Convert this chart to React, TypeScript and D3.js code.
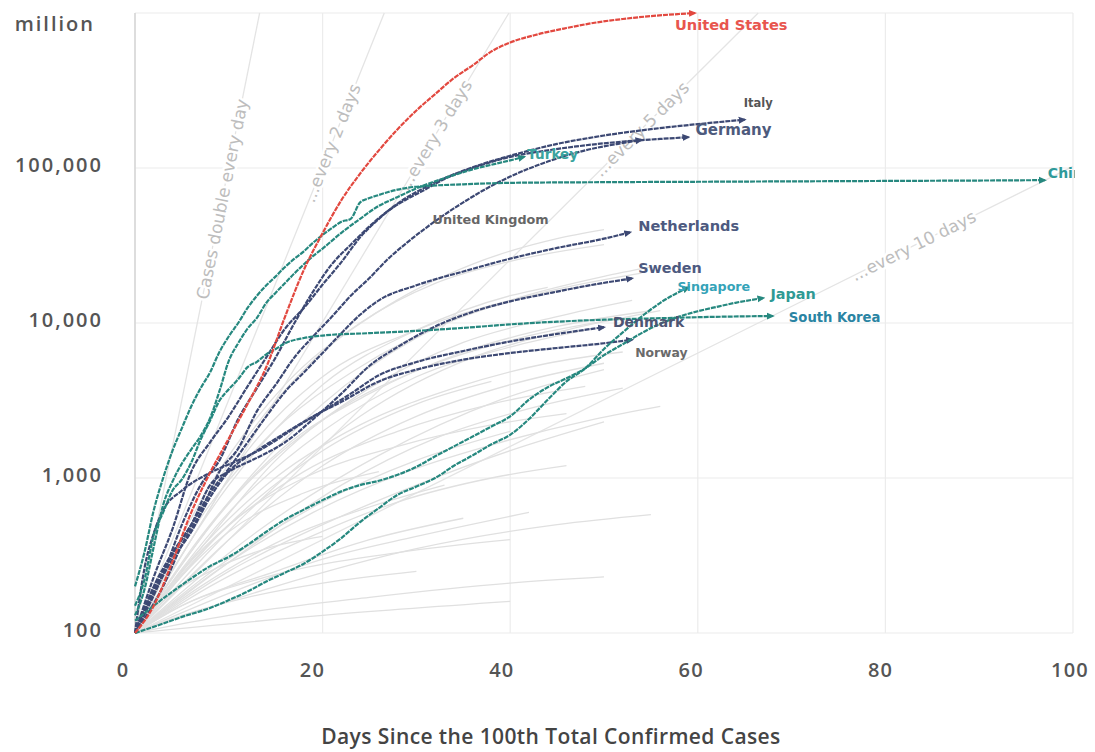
import React from 'react';
import * as d3 from 'd3';

type Pt = [number, number];

// ---- data: [days since 100th case, total confirmed cases] ----
const unitedStates: Pt[] = [[0,100],[2,150],[4,290],[6,600],[8,1080],[10,1800],[12,3000],[14,5200],[16,11000],[18,22000],[20,38000],[22,62000],[24,92000],[26,130000],[28,178000],[30,235000],[32,300000],[34,380000],[36,460000],[38,565000],[40,645000],[43,730000],[46,800000],[49,865000],[52,915000],[55,955000],[58,985000],[59.7,1000000]];
const italy: Pt[] = [[0,100],[2,230],[4,470],[6,1100],[8,1700],[10,2500],[12,3900],[14,6000],[16,9200],[18,12500],[20,17700],[22,24700],[24,35700],[26,47000],[28,59000],[30,70000],[33,86000],[36,101000],[40,120000],[45,143000],[50,162000],[55,178000],[60,192000],[65,205000]];
const germany: Pt[] = [[0,100],[3,240],[5,500],[7,900],[9,1300],[11,2400],[13,3800],[15,6000],[17,10000],[19,16000],[21,24000],[23,32000],[25,42000],[27,53000],[29,63000],[31,73000],[33,85000],[36,100000],[40,118000],[44,130000],[48,140000],[52,148000],[56,154000],[59,158000]];
const unitedKingdom: Pt[] = [[0,100],[3,200],[5,370],[7,600],[9,1100],[11,1550],[13,2700],[15,4000],[17,6000],[19,8200],[21,11000],[23,15000],[25,19500],[27,26000],[29,33000],[31,41000],[33,50000],[35,60000],[37,71000],[40,88000],[44,110000],[48,130000],[52,145000],[54,152000]];
const netherlands: Pt[] = [[0,100],[2,190],[4,320],[6,500],[8,800],[10,1150],[12,1700],[14,2500],[16,3600],[18,4800],[20,6400],[22,8600],[24,11300],[26,14000],[30,17500],[35,21500],[40,26000],[45,30500],[50,35000],[52.8,38500]];
const sweden: Pt[] = [[0,100],[2,200],[4,330],[6,500],[8,900],[10,1100],[13,1350],[16,1700],[19,2400],[22,3500],[25,5300],[28,7000],[32,9500],[36,11800],[40,13800],[44,15500],[48,17300],[53,19400]];
const denmark: Pt[] = [[0,100],[1,260],[2,440],[3,620],[5,830],[8,1080],[11,1300],[14,1600],[17,2100],[20,2700],[23,3500],[26,4600],[30,5600],[35,6600],[40,7600],[45,8500],[50,9400]];
const norway: Pt[] = [[0,100],[2,180],[4,300],[6,450],[8,750],[10,1100],[13,1500],[16,1950],[19,2500],[22,3100],[26,4200],[30,5000],[35,5800],[40,6400],[45,6900],[50,7400],[53,7800]];
const china: Pt[] = [[0,200],[1,330],[2,620],[3,1000],[4,1500],[5,2100],[6,2900],[7,3800],[8,4800],[9,6500],[10,8200],[11,10000],[12,12500],[13,15000],[14,17500],[15,20000],[16,23000],[17,26000],[18,29000],[19,33000],[20,37000],[21,41000],[22,45000],[23,47000],[24,60000],[25,64000],[26,67000],[27,70000],[28,72500],[29,74500],[31,76500],[35,78500],[40,80200],[50,81000],[60,81500],[70,82000],[80,82500],[90,83000],[97,83500]];
const turkey: Pt[] = [[0,130],[1,190],[2,360],[3,670],[4,950],[5,1240],[6,1530],[7,1870],[8,2430],[9,3630],[10,5700],[11,7400],[12,9200],[13,10800],[14,13500],[15,15700],[16,18100],[17,20900],[18,23900],[19,27100],[20,30200],[22,38200],[24,47000],[26,57000],[28,65000],[30,74000],[32,82000],[34,90000],[36,98000],[38,105000],[40,112000],[41.5,118000]];
const southKorea: Pt[] = [[0,150],[1,220],[2,430],[3,600],[4,830],[5,980],[6,1260],[7,1770],[8,2340],[9,3150],[10,3740],[11,4340],[12,5190],[13,5620],[14,6280],[15,6800],[16,7400],[18,8000],[20,8300],[25,8600],[30,8900],[35,9300],[40,9800],[45,10200],[50,10500],[55,10700],[60,10900],[68,11100]];
const singapore: Pt[] = [[0,100],[3,115],[5,127],[8,145],[10,163],[12,185],[14,215],[16,245],[18,280],[20,335],[22,410],[24,520],[26,640],[28,780],[30,880],[32,1000],[34,1200],[36,1400],[38,1650],[40,1900],[42,2400],[44,3200],[46,4200],[48,5100],[50,6800],[52,8700],[54,11000],[56,13500],[59,17000]];
const japan: Pt[] = [[0,120],[2,150],[4,185],[6,225],[8,270],[10,310],[12,370],[14,450],[16,540],[18,625],[20,720],[22,820],[24,900],[26,960],[28,1050],[30,1180],[32,1380],[34,1600],[36,1850],[38,2150],[40,2500],[42,3200],[44,3850],[46,4400],[48,5100],[50,6200],[52,7300],[54,8600],[56,9900],[58,11000],[60,11900],[62,12700],[64,13500],[67,14500]];

// other countries (grey background lines)
const otherCountries: Pt[][] = [
  [[0,100],[10,250],[20,500],[30,900],[40,1500],[50,2300]],
  [[0,100],[10,400],[20,1200],[30,2500],[40,4000],[50,5500]],
  [[0,100],[10,600],[20,2000],[30,4500],[40,7000],[48,9000]],
  [[0,100],[8,500],[16,1600],[25,3500],[35,6500],[45,9500],[55,12000]],
  [[0,100],[10,300],[20,700],[30,1300],[40,2000]],
  [[0,100],[5,150],[15,250],[25,400],[35,550]],
  [[0,100],[10,180],[20,300],[30,420],[42,600]],
  [[0,100],[6,300],[14,900],[24,2200],[34,3800],[44,5500],[52,6500]],
  [[0,100],[10,700],[20,3000],[30,8000],[40,14000],[50,20000],[55,23000]],
  [[0,100],[8,900],[16,4000],[24,10000],[32,18000],[40,25000],[50,32000]],
  [[0,100],[7,200],[15,380],[25,650],[33,900]],
  [[0,100],[5,130],[12,170],[20,210],[30,250]],
  [[0,100],[4,200],[10,450],[18,800],[26,1100]],
  [[0,100],[10,500],[20,1500],[30,3000],[38,4200]],
  [[0,100],[12,350],[22,900],[32,1800],[42,2800],[52,3800]],
  [[0,100],[9,1000],[18,5000],[27,13000],[36,24000],[45,35000],[50,40000]],
  [[0,100],[6,400],[12,1500],[20,4500],[30,9000],[40,14000],[50,18000]],
  [[0,100],[15,200],[30,350],[45,500],[55,580]],
  [[0,100],[3,160],[8,250],[14,350],[20,420]],
  [[0,100],[12,600],[24,2500],[36,6000],[46,9000],[56,12000]],
  [[0,100],[10,900],[20,4000],[30,9000],[40,15000],[44,17000]],
  [[0,100],[5,250],[10,500],[18,1000],[28,1600],[38,2200],[46,2600]],
  [[0,100],[8,200],[18,400],[28,700],[38,1000],[46,1200]],
  [[0,100],[20,130],[40,160]],
  [[0,100],[10,130],[25,170],[40,210],[50,230]],
  [[0,100],[7,350],[15,1300],[25,3800],[35,7500],[45,11000],[53,14000]],
  [[0,100],[9,260],[19,600],[29,1100],[39,1700],[49,2400],[56,2900]],
  [[0,100],[6,450],[14,1800],[24,5200],[34,10500],[44,16000],[54,21000]],
  [[0,100],[11,800],[21,2600],[31,5200],[41,8000],[51,10500]],
  [[0,100],[8,380],[18,1100],[28,2000],[38,3000],[48,3900]],
  [[0,100],[13,450],[26,1400],[39,3200],[50,5000]],
  [[0,100],[4,140],[14,230],[28,330],[40,400]],
];

const doublingDays = [1, 2, 3, 5, 10];
const doublingLabels = ['Cases double every day', '...every 2 days', '...every 3 days', '...every 5 days', '...every 10 days'];
const doublingLabelDay = [9.3, 21, 32, 54, 83];

const xTicks = [0, 20, 40, 60, 80, 100];
const yTicks = [100, 1000, 10000, 100000, 1000000];
const yTickLabels = ['100', '1,000', '10,000', '100,000', 'million'];

const RED = '#e2483f';
const NAVY = '#3c4873';
const TEAL = '#26887f';

interface Series { name: string; data: Pt[]; color: string; label: string; size: number; dx: number; dy: number; }

const highlighted: Series[] = [
  { name: 'Norway', data: norway, color: NAVY, label: '#6a6a6a', size: 12.4, dx: 3, dy: 13 },
  { name: 'Denmark', data: denmark, color: NAVY, label: '#4d5573', size: 14, dx: 9, dy: -5 },
  { name: 'Sweden', data: sweden, color: NAVY, label: '#4d5a80', size: 14.4, dx: 6, dy: -10 },
  { name: 'Netherlands', data: netherlands, color: NAVY, label: '#4d5a80', size: 14.6, dx: 8, dy: -6 },
  { name: 'United Kingdom', data: unitedKingdom, color: NAVY, label: '#666666', size: 12.8, dx: -209, dy: 80 },
  { name: 'Germany', data: germany, color: NAVY, label: '#4d5a7c', size: 15, dx: 7, dy: -7 },
  { name: 'Italy', data: italy, color: NAVY, label: '#555555', size: 11.5, dx: -1, dy: -17 },
  { name: 'Japan', data: japan, color: TEAL, label: '#2f9a94', size: 14.4, dx: 7, dy: -4 },
  { name: 'Singapore', data: singapore, color: TEAL, label: '#35a3b8', size: 12.7, dx: -11, dy: -1 },
  { name: 'South Korea', data: southKorea, color: TEAL, label: '#2a84a3', size: 13.2, dx: 16, dy: 1 },
  { name: 'Turkey', data: turkey, color: TEAL, label: '#3aa39e', size: 13.6, dx: 3, dy: -3 },
  { name: 'China', data: china, color: TEAL, label: '#2f9a9a', size: 14, dx: 3, dy: -7 },
  { name: 'United States', data: unitedStates, color: RED, label: '#e8554e', size: 14.6, dx: -20, dy: 12 },
];

const W = 1095, H = 752;
const x = d3.scaleLinear().domain([0, 100]).range([135, 1073]);
const y = d3.scaleLog().domain([100, 1e6]).range([633, 13]);
const xLabel = d3.scaleLinear().domain([0, 100]).range([123, 1070]);

const line = d3.line<Pt>().x(d => x(d[0])).y(d => y(d[1])).curve(d3.curveMonotoneX);

const markerId = (c: string) => 'arrow-' + c.replace('#', '');

export default function App() {
  const colors = [RED, NAVY, TEAL];
  return (
    <svg width={W} height={H} style={{ position: 'absolute', left: 0, top: 0, background: '#fff' }}
      fontFamily="'Open Sans', sans-serif">
      <defs>
        {colors.map(c => (
          <marker key={c} id={markerId(c)} viewBox="0 0 8 8" refX="6" refY="4" markerWidth="8" markerHeight="8"
            markerUnits="userSpaceOnUse" orient="auto">
            <path d="M0,0.5 L8,4 L0,7.5 z" fill={c} />
          </marker>
        ))}
        <clipPath id="plotClip"><rect x={0} y={0} width={1075} height={H} /></clipPath>
      </defs>

      {/* grid */}
      <g stroke="#ececec" strokeWidth={1.2}>
        {xTicks.map(t => <line key={'gx' + t} x1={x(t)} x2={x(t)} y1={y(1e6)} y2={y(100)} />)}
        {yTicks.map(t => <line key={'gy' + t} x1={x(0)} x2={x(100)} y1={y(t)} y2={y(t)} />)}
      </g>
      <line x1={x(0)} x2={x(0)} y1={y(1e6)} y2={y(100)} stroke="#d6d6d6" strokeWidth={1.5} />

      {/* doubling reference lines */}
      <g>
        {doublingDays.map(p => {
          const endDay = Math.min(100, p * Math.log2(1e4));
          const pts: Pt[] = [[0, 100], [endDay, 100 * Math.pow(2, endDay / p)]];
          return <line key={'d' + p} x1={x(pts[0][0])} y1={y(pts[0][1])} x2={x(pts[1][0])} y2={y(pts[1][1])}
            stroke="#e4e4e4" strokeWidth={1.3} />;
        })}
      </g>

      {/* other countries */}
      <g fill="none" stroke="#e0e0e0" strokeWidth={1.3}>
        {otherCountries.map((s, i) => <path key={'o' + i} d={line(s) || ''} />)}
      </g>

      {/* doubling labels */}
      <g fontFamily="'DejaVu Sans', Verdana, sans-serif" fontSize={17} fill="#bdbdbd">
        {doublingDays.map((p, i) => {
          const d = doublingLabelDay[i];
          const x1 = x(d), y1 = y(100 * Math.pow(2, d / p));
          const x2 = x(d + 1), y2 = y(100 * Math.pow(2, (d + 1) / p));
          const ang = Math.atan2(y2 - y1, x2 - x1) * 180 / Math.PI;
          return (
            <text key={'dl' + p} transform={`translate(${x1},${y1}) rotate(${ang})`} textAnchor="middle" dy="0.35em"
              stroke="#fff" strokeWidth={5} paintOrder="stroke" strokeLinejoin="round">{doublingLabels[i]}</text>
          );
        })}
      </g>

      {/* highlighted countries */}
      <g fill="none">
        {highlighted.map(s => (
          <path key={s.name} d={line(s.data) || ''} stroke={s.color} strokeWidth={2.2}
            strokeDasharray="5 1" markerEnd={`url(#${markerId(s.color)})`} />
        ))}
      </g>

      {/* labels */}
      <g clipPath="url(#plotClip)" fontFamily="'DejaVu Sans', Verdana, sans-serif" fontWeight="bold">
        {highlighted.map(s => {
          const last = s.data[s.data.length - 1];
          return (
            <text key={'l' + s.name} x={x(last[0]) + s.dx} y={y(last[1]) + s.dy} dy="0.35em" fontSize={s.size}
              fill={s.label}>{s.name}</text>
          );
        })}
      </g>

      {/* y axis labels */}
      <g fontSize={20} fontWeight={600} fill="#555" letterSpacing={2}>
        {yTicks.map((t, i) => (
          <text key={'yl' + t} x={i === 4 ? 95 : 103} y={i === 4 ? y(t) + 11 : y(t) - 3} dy="0.35em" textAnchor="end">
            {yTickLabels[i]}
          </text>
        ))}
      </g>

      {/* x axis labels */}
      <g fontSize={20} fontWeight={600} fill="#555" letterSpacing={1.2}>
        {xTicks.map(t => (
          <text key={'xl' + t} x={xLabel(t)} y={670} dy="0.35em" textAnchor="middle">{t}</text>
        ))}
      </g>
      <text x={551} y={737} dy="0.35em" textAnchor="middle" fontSize={21} fontWeight={600} fill="#444"
        letterSpacing={0.4}>
        Days Since the 100th Total Confirmed Cases
      </text>
    </svg>
  );
}
